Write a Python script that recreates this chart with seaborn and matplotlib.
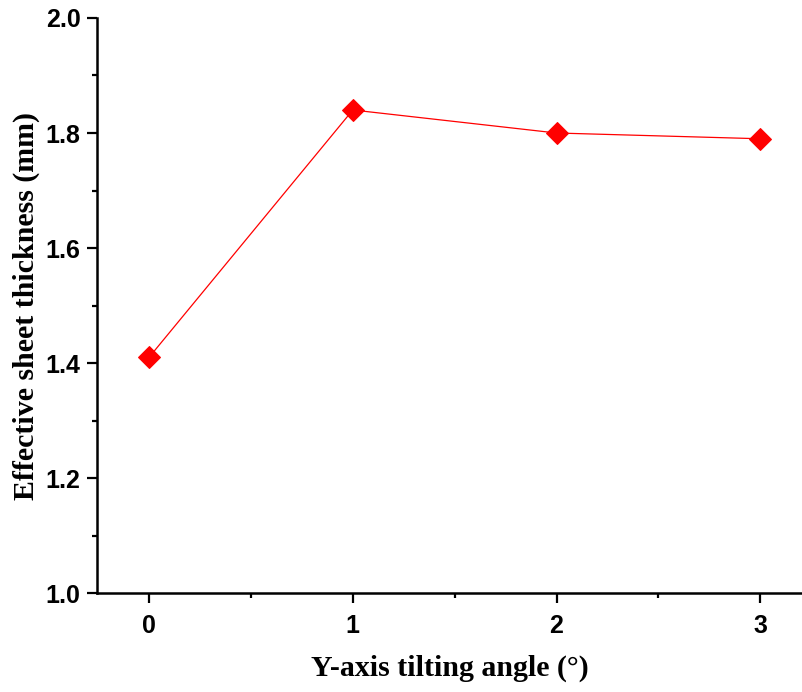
import matplotlib.pyplot as plt
import seaborn as sns
import pandas as pd
from matplotlib.ticker import MultipleLocator

sns.set_theme(style="ticks")

# Data
angles = [0, 1, 2, 3]
thickness = [1.41, 1.84, 1.80, 1.79]

df = pd.DataFrame({"angle": angles, "thickness": thickness})

fig = plt.figure(figsize=(8.03, 6.92), dpi=100)
ax = fig.add_axes([0.121, 0.143, 0.879, 0.831])

sns.lineplot(data=df, x="angle", y="thickness", ax=ax, color="red",
             linewidth=0.9, marker="D", markersize=11, markeredgecolor="red")

ax.set_xlim(-0.255, 3.21)
ax.set_ylim(1.0, 2.0)
ax.xaxis.set_major_locator(MultipleLocator(1))
ax.xaxis.set_minor_locator(MultipleLocator(0.5))
ax.yaxis.set_major_locator(MultipleLocator(0.2))
ax.yaxis.set_minor_locator(MultipleLocator(0.1))

for side in ["top", "right"]:
    ax.spines[side].set_visible(False)
for side in ["left", "bottom"]:
    ax.spines[side].set_linewidth(1.8)
    ax.spines[side].set_color("black")

ax.tick_params(which="major", direction="out", length=7, width=1.6,
               color="black", labelcolor="black")
ax.tick_params(which="minor", direction="out", length=3.6, width=1.6, color="black")
ax.tick_params(axis="x", which="major", pad=8)
ax.tick_params(axis="y", which="major", pad=5)

ax.set_xticks(angles)
ax.set_xticklabels([str(a) for a in angles], fontfamily="Liberation Sans",
                   fontweight="bold", fontsize=18)
yt = [1.0, 1.2, 1.4, 1.6, 1.8, 2.0]
ax.set_yticks(yt)
ax.set_yticklabels([f"{v:.1f}" for v in yt], fontfamily="Liberation Sans",
                   fontweight="bold", fontsize=18)

ax.set_xlabel("Y-axis tilting angle (°)", fontfamily="Liberation Serif",
              fontweight="bold", fontsize=21.5, labelpad=12, color="black")
ax.set_ylabel("Effective sheet thickness (mm)", fontfamily="Liberation Serif",
              fontweight="bold", fontsize=21.5, labelpad=4, color="black")

fig.savefig("out.png", dpi=100)
